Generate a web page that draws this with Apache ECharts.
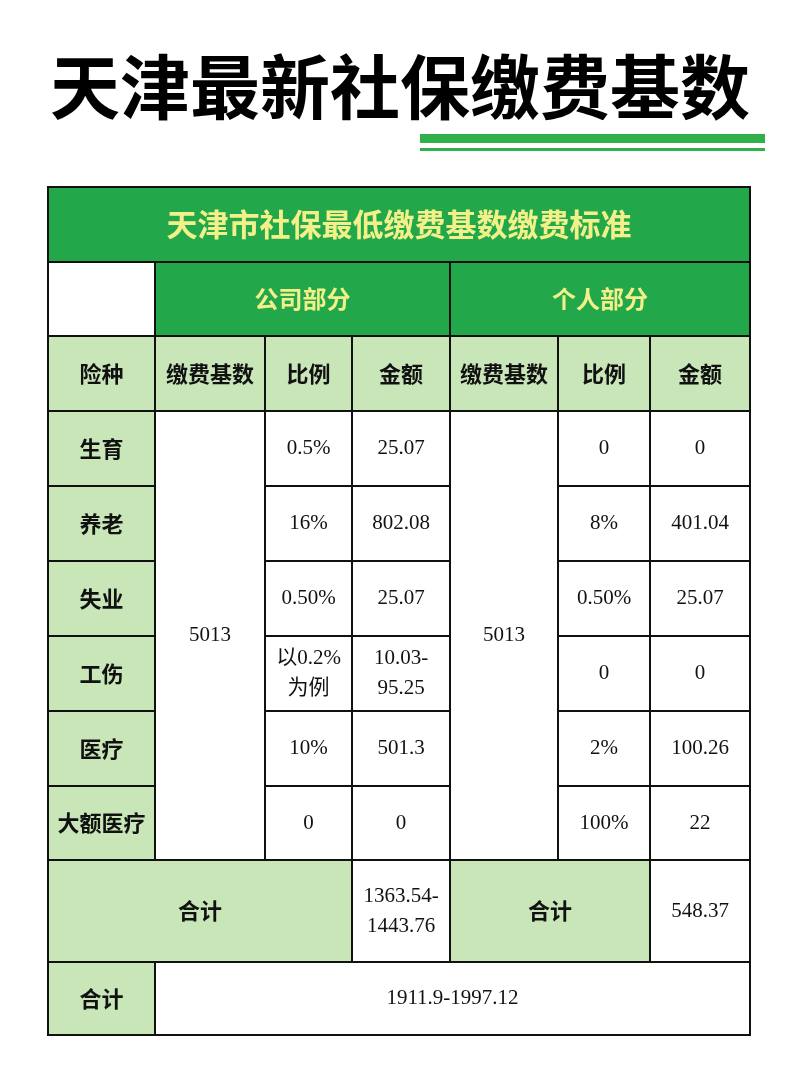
<!DOCTYPE html>
<html><head><meta charset="utf-8">
<script src="https://cdn.jsdelivr.net/npm/echarts@6/dist/echarts.min.js"></script>
<style>html,body{margin:0;padding:0;background:#fff}#c{width:800px;height:1069px}</style>
</head><body><div id="c"></div>
<script>
const pageTitle = '天津最新社保缴费基数';
const tableTitle = '天津市社保最低缴费基数缴费标准';
const groups = ['公司部分', '个人部分'];
const headers = ['险种', '缴费基数', '比例', '金额', '缴费基数', '比例', '金额'];
const categories = ['生育', '养老', '失业', '工伤', '医疗', '大额医疗'];
const baseValue = '5013';
const companyRatio = ['0.5%', '16%', '0.50%', '以0.2%\n为例', '10%', '0'];
const companyAmount = ['25.07', '802.08', '25.07', '10.03-\n95.25', '501.3', '0'];
const personalRatio = ['0', '8%', '0.50%', '0', '2%', '100%'];
const personalAmount = ['0', '401.04', '25.07', '0', '100.26', '22'];
const totalLabel = '合计';
const companyTotal = '1363.54-\n1443.76';
const personalTotal = '548.37';
const grandTotal = '1911.9-1997.12';

// layout (pixel units of the table)
const colE = [0, 107, 217, 304, 402, 510, 602, 702];
const rowE = [0, 75, 149, 224, 299, 374, 449, 524, 599, 673, 775, 848];
const DARK = '#22a84a', LIGHT = '#c8e6b8', WHITE = '#ffffff';
const YEL = '#f3f08a';

const cells = [];
function cell(c0, c1, r0, r1, text, fill, kind) { cells.push([colE[c0], colE[c1], rowE[r0], rowE[r1], text, fill, kind]); }
cell(0, 7, 0, 1, tableTitle, DARK, 'title');
cell(0, 1, 1, 2, '', WHITE, 'n');
cell(1, 4, 1, 2, groups[0], DARK, 'group');
cell(4, 7, 1, 2, groups[1], DARK, 'group');
headers.forEach((h, i) => cell(i, i + 1, 2, 3, h, LIGHT, 'head'));
categories.forEach((c, i) => {
  const r = 3 + i;
  cell(0, 1, r, r + 1, c, LIGHT, 'head');
  cell(2, 3, r, r + 1, companyRatio[i], WHITE, 'num');
  cell(3, 4, r, r + 1, companyAmount[i], WHITE, 'num');
  cell(5, 6, r, r + 1, personalRatio[i], WHITE, 'num');
  cell(6, 7, r, r + 1, personalAmount[i], WHITE, 'num');
});
cell(1, 2, 3, 9, baseValue, WHITE, 'num');
cell(4, 5, 3, 9, baseValue, WHITE, 'num');
cell(0, 3, 9, 10, totalLabel, LIGHT, 'head');
cell(3, 4, 9, 10, companyTotal, WHITE, 'num');
cell(4, 6, 9, 10, totalLabel, LIGHT, 'head');
cell(6, 7, 9, 10, personalTotal, WHITE, 'num');
cell(0, 1, 10, 11, totalLabel, LIGHT, 'head');
cell(1, 7, 10, 11, grandTotal, WHITE, 'num');

const styles = {
  title: { fill: YEL, font: 'bold 31px "Noto Sans CJK SC"' },
  group: { fill: YEL, font: 'bold 24px "Noto Sans CJK SC"' },
  head: { fill: '#111', font: 'bold 22px "Noto Sans CJK SC"' },
  num: { fill: '#111', font: '21px "Liberation Serif", "Noto Sans CJK SC"' },
  n: { fill: '#111', font: '20px sans-serif' }
};

const chart = echarts.init(document.getElementById('c'), null, { renderer: 'canvas' });
chart.setOption({
  animation: false,
  grid: { left: 48, right: 50, top: 187, bottom: 34 },
  xAxis: { type: 'value', min: 0, max: 702, show: false },
  yAxis: { type: 'value', min: 0, max: 848, inverse: true, show: false },
  graphic: [
    { type: 'text', left: 'center', top: 52, style: { text: pageTitle, font: 'bold 70px "Noto Sans CJK SC"', fill: '#000' } },
    { type: 'rect', shape: { x: 420, y: 134, width: 345, height: 9 }, style: { fill: '#2fb04a' } },
    { type: 'rect', shape: { x: 420, y: 148, width: 345, height: 3 }, style: { fill: '#2fb04a' } }
  ],
  series: [{
    type: 'custom',
    data: cells,
    renderItem: function (params, api) {
      const p0 = api.coord([api.value(0), api.value(2)]);
      const p1 = api.coord([api.value(1), api.value(3)]);
      const d = cells[params.dataIndex];
      const st = styles[d[6]];
      return {
        type: 'group',
        children: [
          { type: 'rect', shape: { x: p0[0], y: p0[1], width: p1[0] - p0[0], height: p1[1] - p0[1] },
            style: { fill: d[5], stroke: '#111', lineWidth: 2 } },
          { type: 'text', x: (p0[0] + p1[0]) / 2, y: (p0[1] + p1[1]) / 2,
            style: { text: d[4], fill: st.fill, font: st.font, align: 'center', verticalAlign: 'middle', lineHeight: 30 } }
        ]
      };
    }
  }]
});
</script></body></html>
